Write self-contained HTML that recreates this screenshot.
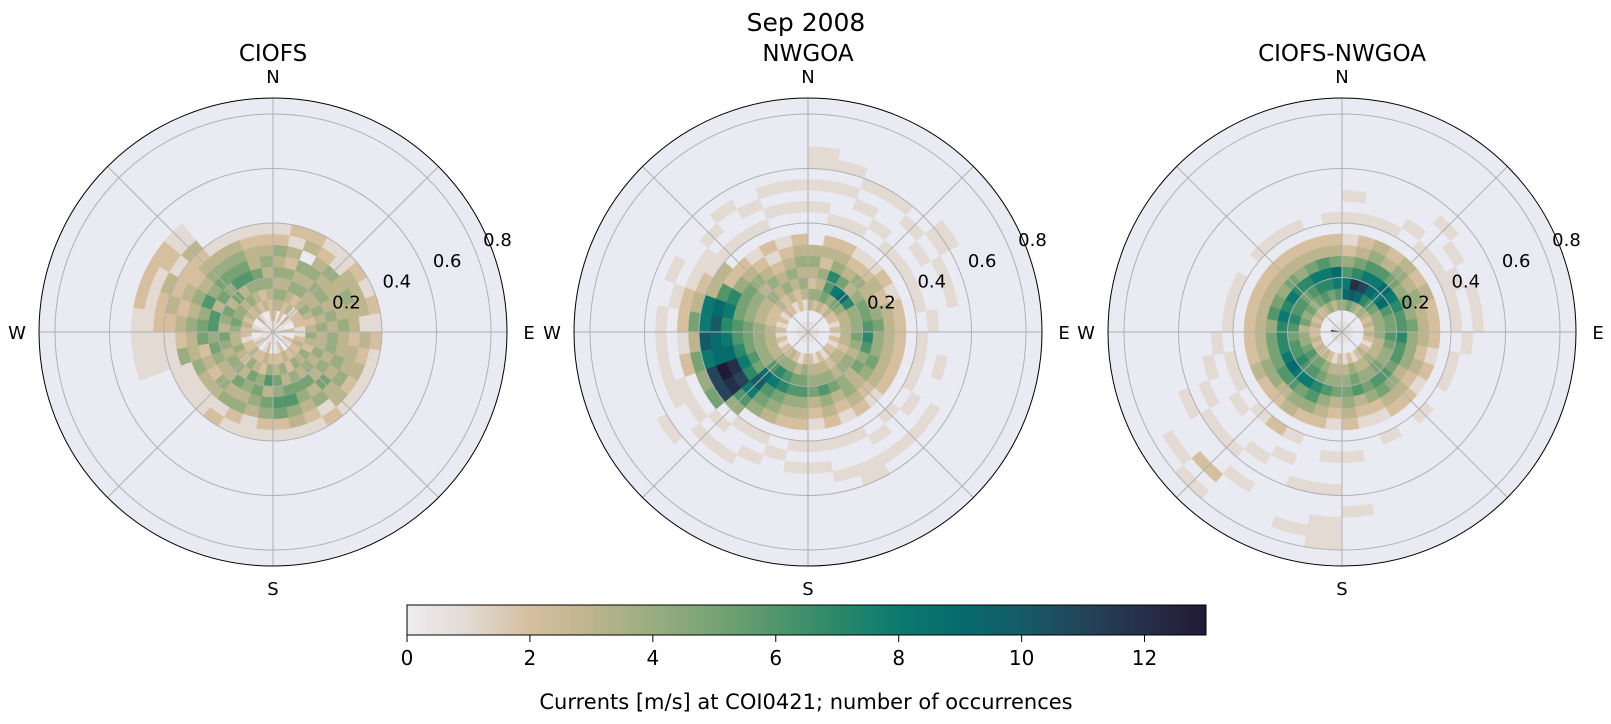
<!DOCTYPE html>
<html><head><meta charset="utf-8">
<style>
html,body{margin:0;padding:0;background:#fff;}
svg{display:block;font-family:"DejaVu Sans","Liberation Sans",sans-serif;}
</style></head>
<body>
<svg id="fig" width="1611" height="724" viewBox="0 0 1611 724" xmlns="http://www.w3.org/2000/svg">
<defs>
<linearGradient id="cmap" x1="0" x2="1" y1="0" y2="0">
<stop offset="0" stop-color="#eeedf2"/>
<stop offset="0.0769" stop-color="#e2dad3"/>
<stop offset="0.1538" stop-color="#d5bf9f"/>
<stop offset="0.2308" stop-color="#bcb58d"/>
<stop offset="0.3077" stop-color="#99ad80"/>
<stop offset="0.3846" stop-color="#77a374"/>
<stop offset="0.4615" stop-color="#52966c"/>
<stop offset="0.5385" stop-color="#2b8869"/>
<stop offset="0.6154" stop-color="#0c7a70"/>
<stop offset="0.6923" stop-color="#066b6c"/>
<stop offset="0.7692" stop-color="#155b66"/>
<stop offset="0.8462" stop-color="#244459"/>
<stop offset="0.9231" stop-color="#262f49"/>
<stop offset="1" stop-color="#211a36"/>
</linearGradient>
</defs>
<text x="806" y="31" font-size="25" text-anchor="middle">Sep 2008</text>
<g id="plots"></g>
<g>
<rect x="407" y="605" width="799" height="30" fill="url(#cmap)" stroke="#000" stroke-width="1"/>
<g id="cbticks"></g>
<text x="806" y="709" font-size="21" text-anchor="middle">Currents [m/s] at COI0421; number of occurrences</text>
</g>
</svg>
<script>
const NS = "http://www.w3.org/2000/svg";
const binWidth = 0.04;
const nDirs = 36;
const cbTicks = [0,2,4,6,8,10,12];
const cbMax = 13;
const radialTicks = [0.2,0.4,0.6,0.8];
const compassLabels = ["N","E","S","W"];
const plotTitles = ["CIOFS","NWGOA","CIOFS-NWGOA"];
// counts per direction (N clockwise, 10° bins), per speed bin (0.04 m/s); hex digits, '.'=0
const countsCIOFS = [
".234343421","1.34342312","1223434.32","..32434321","1213343411",".124343332",
"1.23433431","..22343332","2213434311","1.14343232","..23343321","1232434331",
".124343421","1.23435331","..24353412","1232454321",".124356431","1.23546521",
"..24635421","1232454311",".123543421","1.24353412","..32434311","1223432311",
".124343411","1.13452341111","..23545321111","1224365432211",".135464323212","1.24536432312",
"..34354322122","1223545432311",".134365431","1.23465431","..32453321","1223434321"];
const countsNWGOA = [
"1.342343...1.1.11","..2434232.1..1.1","1.3567432.1.1.1","..2485321..1..1","1.3593421.1..1","..2474332.1.1.11",
"..2345321.1..1","1.1345432.1..1","..2346532..1","1.1357432.1","..2346432.1.1","1.1234532.1",
"..2345432..1.1","1.2343321.1..1","..1234432..1.1","1.2345321.1..11","..1346432.1..1","1.2345321.1.1",
"..2456432.1.1","1.1356432..1","..2467543.1.1","1.3478654.1..1","..2469a864.1.1","1.23457bcb5.1..1",
"..13468cdb4.11","1.2345799852.1","..1345689a31.1","1.234567a852.1","..12345898321","1.2234576321.1",
"..1234542311","1.2343432.1.1","..2234321.1..1","1.1343212.1.1","..2234321..1.1","1.1343432..1.1"];
const countsDiff = [
"..4986421.1.1","1.5ac7532.1","..49b8643.1","1.3798632..1","..4689543.1..1","1.3598432.1.1",
"..2467543.11","1.3456432.1.1","..2456532.1.1","1.3467432..1","..2356421.1","1.1346432.1",
"..2345321","1.3456432.1","..2346532","1.1345421.1","..2456321","1.1345432..1....1",
"..2345321..1..1..111","1.1346432.....1...1","..2457642.1.1","1.3568543.2..1..1","..2568632.1...1..2.1","1.3679642..1..1...1",
"..2568543.1..1.1","1.3467532.1.1","..2457532..1","c.2367432.1","..3578632.1","1.2467532.1",
"..3568432","1.2457532.1","..3567432.1","1.4678532.1","..3578632","1.4689532.1"];
const allCounts = [countsCIOFS,countsNWGOA,countsDiff];

const cmapStops = ["#eeedf2","#e2dad3","#d5bf9f","#bcb58d","#99ad80","#77a374","#52966c","#2b8869","#0c7a70","#066b6c","#155b66","#244459","#262f49","#211a36"];
function color(v){
  const t = Math.max(0,Math.min(cbMax,v));
  const i = Math.min(12,Math.floor(t)); const f=t-i;
  const a=cmapStops[i], b=cmapStops[i+1];
  const p=(h,k)=>parseInt(h.substr(1+2*k,2),16);
  const c=[0,1,2].map(k=>Math.round(p(a,k)+(p(b,k)-p(a,k))*f));
  return "rgb("+c.join(",")+")";
}
const centersX=[273,808,1342], cy=332, R=234, pxPerUnit=272.5;
function rScale(v){return v*pxPerUnit;}
function pt(cx,r,deg){const a=deg*Math.PI/180;return [cx+r*Math.sin(a), cy-r*Math.cos(a)];}
function mk(tag,attrs,parent){const e=document.createElementNS(NS,tag);for(const k in attrs)e.setAttribute(k,attrs[k]);parent.appendChild(e);return e;}
const plots=document.getElementById("plots");
for(let p=0;p<3;p++){
  const cx=centersX[p];
  const g=mk("g",{},plots);
  
  
  const bg=mk("circle",{cx:cx,cy:cy,r:R,fill:"#eaeaf2"},g);
  
  
  const cells=mk("g",{},g);
  
  
  const data=allCounts[p];
  for(let d=0;d<nDirs;d++){
    const s=data[d];
    for(let k=0;k<s.length;k++){
      const ch=s[k]; if(ch==='.'||ch==='0') continue;
      const v=parseInt(ch,16);
      const r0=rScale(k*binWidth), r1=rScale((k+1)*binWidth);
      const a0=d*360/nDirs, a1=(d+1)*360/nDirs;
      const P0=pt(cx,r0,a0),P1=pt(cx,r1,a0),P2=pt(cx,r1,a1),P3=pt(cx,r0,a1);
      const dstr="M"+P0+"L"+P1+"A"+r1+","+r1+" 0 0 1 "+P2+"L"+P3+(r0>0?"A"+r0+","+r0+" 0 0 0 "+P0:"")+"Z";
      const cell=mk("path",{d:dstr,fill:color(v),stroke:color(v),"stroke-width":0.4},cells);
      
      
    }
  }
  for(const t of radialTicks){
    const c=mk("circle",{cx:cx,cy:cy,r:rScale(t),fill:"none",stroke:"#b0b0b0","stroke-width":1},g);
    
    
    const lp=pt(cx,rScale(t)+25,67.5);
    const tl=mk("text",{x:lp[0],y:lp[1]+7,"font-size":18,"text-anchor":"middle"},g);
    tl.textContent=String(t);
    
    
  }
  for(let a=0;a<360;a+=45){
    const e=pt(cx,R,a);
    const l=mk("line",{x1:cx,y1:cy,x2:e[0],y2:e[1],stroke:"#b0b0b0","stroke-width":1},g);
    
    
  }
  const ol=mk("circle",{cx:cx,cy:cy,r:R,fill:"none",stroke:"#000","stroke-width":1},g);
  
  
  for(let i=0;i<4;i++){
    const q=pt(cx,R+22,i*90);
    const t=mk("text",{x:q[0],y:q[1]+7,"font-size":18,"text-anchor":"middle"},g);
    t.textContent=compassLabels[i];
    
    
  }
  const tt=mk("text",{x:cx,y:61,"font-size":23,"text-anchor":"middle"},g);
  tt.textContent=plotTitles[p];
  
  
}
const cbg=document.getElementById("cbticks");
for(const t of cbTicks){
  const x=407+t/cbMax*799;
  const l=mk("line",{x1:x,y1:635,x2:x,y2:642,stroke:"#000","stroke-width":1},cbg);
  
  
  const tx=mk("text",{x:x,y:665,"font-size":20,"text-anchor":"middle"},cbg);
  tx.textContent=String(t);
  
  
}
</script>
</body></html>
